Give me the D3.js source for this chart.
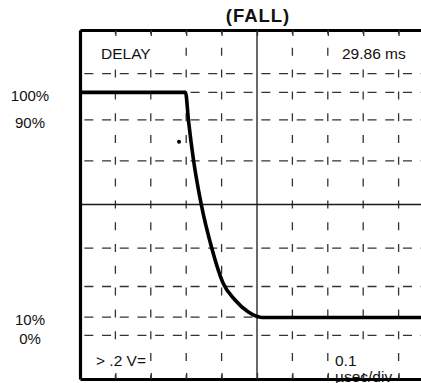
<!DOCTYPE html>
<html>
<head>
<meta charset="utf-8">
<script src="https://cdn.jsdelivr.net/npm/d3@7"></script>
<style>
  html, body { margin: 0; padding: 0; background: #fff; }
  svg { display: block; }
  text { font-family: "Liberation Sans", Arial, Helvetica, sans-serif; fill: #111; }
</style>
</head>
<body>
<svg id="scope" width="421" height="383"></svg>
<script>
// Horizontal time base: 0.1 µs per division, 10 divisions
const timeDivs = [0, 0.1, 0.2, 0.3, 0.4, 0.5, 0.6, 0.7, 0.8, 0.9, 1.0];
// Vertical graticule in divisions from screen centre (0.2 V/div)
const levelMajor = [3, 1, -1, -3];
// Reference levels marked on the left
const refLabels = ["100%", "90%", "10%", "0%"];
const refLevels = [2.57, 1.94, -2.58, -3.0];
// Extra dashed level between -1 and the 10% line
const levelExtra = [-1.88];

// Falling edge trace: time (µs) and level (div)
const traceTime  = [0, 0.298, 0.3065, 0.3206, 0.3418, 0.3729, 0.404, 0.4379, 0.4746, 0.5141, 1.0];
const traceLevel = [2.57, 2.57, 1.92, 1.02, 0.03, -1.02, -1.80, -2.19, -2.46, -2.59, -2.59];

// Trigger marker
const markerTime = [0.2797];
const markerLevel = [1.44];

// Readouts
const delayLabel = "DELAY";
const delayValue = "29.86 ms";
const voltLabel = "> .2 V=";
const timeLabel = ["0.1", "µsec/div"];
const title = "(FALL)";

const svg = d3.select("#scope");
const x = d3.scaleLinear().domain([0, 1.0]).range([80, 434]);
const y = d3.scaleLinear().domain([4, -4]).range([30, 379]);

// Title
svg.append("text")
  .attr("x", x(0.5) + 1).attr("y", 22)
  .attr("text-anchor", "middle")
  .style("font-size", "18.5px").style("font-weight", "bold")
  .style("letter-spacing", "1px")
  .text(title);

const grid = svg.append("g");

// Vertical dashed graticule
grid.selectAll("line.v").data(timeDivs.slice(1, -1).filter(t => Math.abs(t - 0.5) > 1e-9))
  .join("line").attr("class", "v")
  .attr("x1", d => x(d)).attr("x2", d => x(d))
  .attr("y1", y(4)).attr("y2", y(-4))
  .attr("stroke", "#333").attr("stroke-width", 1.3)
  .attr("stroke-dasharray", "8,13.8").attr("stroke-dashoffset", 4);

// Horizontal dashed graticule and reference levels
const hLevels = levelMajor.concat(refLevels.slice(0, 3), levelExtra);
grid.selectAll("line.h").data(hLevels)
  .join("line").attr("class", "h")
  .attr("x1", x(0)).attr("x2", x(1))
  .attr("y1", d => y(d)).attr("y2", d => y(d))
  .attr("stroke", "#333").attr("stroke-width", 1.3)
  .attr("stroke-dasharray", "9,8.7").attr("stroke-dashoffset", 13.35);

// Solid centre cross
grid.append("line")
  .attr("x1", x(0.5)).attr("x2", x(0.5)).attr("y1", y(4)).attr("y2", y(-4))
  .attr("stroke", "#1a1a1a").attr("stroke-width", 1.3);
grid.append("line")
  .attr("x1", x(0)).attr("x2", x(1)).attr("y1", y(0)).attr("y2", y(0))
  .attr("stroke", "#1a1a1a").attr("stroke-width", 1.3);

// Readout text on white panels
function readout(lines, tx, ty, lh, pad) {
  const g = svg.append("g");
  const rect = g.append("rect").attr("fill", "#fff");
  const t = g.append("text").style("font-size", "15.5px");
  lines.forEach((s, i) => t.append("tspan").attr("x", tx).attr("y", ty + i * lh).text(s));
  const b = t.node().getBBox();
  rect.attr("x", b.x - pad).attr("y", b.y - pad)
      .attr("width", b.width + 2 * pad).attr("height", b.height + 2 * pad);
}
readout([delayLabel], 101, 59, 0, 4);
readout([delayValue], 342, 59, 0, 4);
readout([voltLabel], 96, 366, 0, 4);
readout(timeLabel, 335, 366, 16, 4);

// Trace
const line = d3.line()
  .x((d, i) => x(traceTime[i]))
  .y((d, i) => y(traceLevel[i]))
  .curve(d3.curveMonotoneX);
svg.append("path")
  .datum(traceTime)
  .attr("d", line)
  .attr("fill", "none").attr("stroke", "#000")
  .attr("stroke-width", 3.6).attr("stroke-linejoin", "round");

svg.selectAll("circle.marker").data(markerTime)
  .join("circle").attr("class", "marker")
  .attr("cx", d => x(d)).attr("cy", (d, i) => y(markerLevel[i]))
  .attr("r", 2).attr("fill", "#000");

// Frame with tick marks
const topAxis = d3.axisTop(x).tickValues(timeDivs).tickSize(-6).tickFormat("");
const botAxis = d3.axisBottom(x).tickValues(timeDivs).tickSize(-6).tickFormat("");
const leftAxis = d3.axisLeft(y).tickValues([]).tickSize(0).tickSizeOuter(0);
function frame(sel) {
  sel.select(".domain").attr("stroke", "#000").attr("stroke-width", 3.2);
  sel.selectAll(".tick line").attr("stroke", "#333").attr("stroke-width", 1.3);
}
svg.append("g").attr("transform", `translate(0,${y(4)})`).call(topAxis.tickSizeOuter(0)).call(frame);
svg.append("g").attr("transform", `translate(0,${y(-4)})`).call(botAxis.tickSizeOuter(0)).call(frame);
svg.append("g").attr("transform", `translate(${x(0)},0)`).call(leftAxis).call(frame);

// Left reference labels
svg.selectAll("text.ref").data(refLevels)
  .join("text").attr("class", "ref")
  .attr("x", 30).attr("y", d => y(d) + 3)
  .attr("dy", "0.35em")
  .attr("text-anchor", "middle")
  .style("font-size", "15px")
  .text((d, i) => refLabels[i]);
</script>
</body>
</html>
